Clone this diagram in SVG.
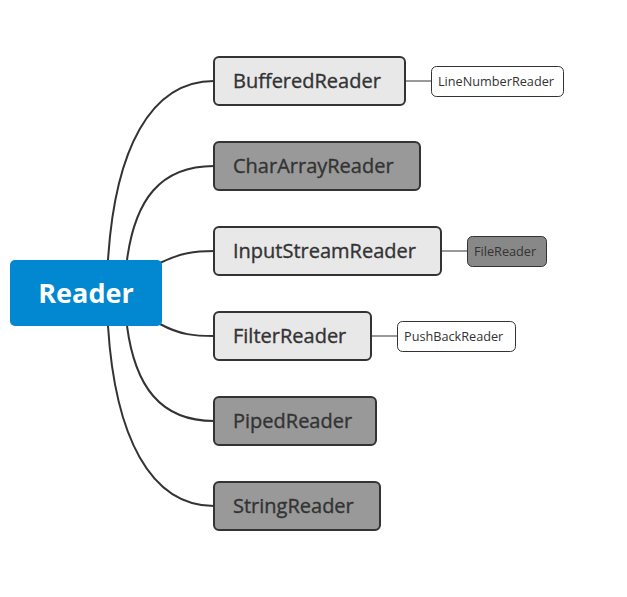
<svg xmlns="http://www.w3.org/2000/svg" width="627" height="597" viewBox="0 0 627 597">
<style>
.root rect{fill:#0288d1;}
.root text{font-family:"Open Sans","Noto Sans",sans-serif;font-weight:bold;font-size:27px;fill:#fff;text-anchor:middle;}
.n rect{stroke:#333;stroke-width:2;}
.n text{font-family:"Open Sans","Noto Sans",sans-serif;font-size:20px;fill:#333;stroke:#333;stroke-width:0.35;}
.light rect{fill:#e8e8e8;}
.dark rect{fill:#999;}
.s rect{stroke:#333;stroke-width:1;}
.s text{font-family:"Open Sans","Noto Sans",sans-serif;font-size:12.7px;fill:#333;}
.w rect{fill:#fff;}
.g rect{fill:#888;}
.c path{fill:none;stroke:#333;stroke-width:2;}
.c line{stroke:#999;stroke-width:2;}
</style>
<rect width="627" height="597" fill="#fff"/>
<g id="connectors" class="c">
<path d="M108,260 C115,150 150,81 214,81"/>
<path d="M127,260 C135,200 160,166 214,166"/>
<path d="M160,263 C180,253 195,251 214,251"/>
<path d="M160,324 C180,335 195,336 214,336"/>
<path d="M127,326 C135,386 160,421 214,421"/>
<path d="M108,326 C115,436 150,506 214,506"/>
<line x1="405" y1="81" x2="431" y2="81"/>
<line x1="441" y1="251" x2="467" y2="251"/>
<line x1="371" y1="336" x2="397" y2="336"/>
</g>
<g id="reader" class="root">
<rect x="10" y="260" width="152" height="66" rx="5"/>
<text x="86" y="303">Reader</text>
</g>
<g id="bufferedreader" class="n light">
<rect x="214" y="57" width="191" height="48" rx="5"/>
<text x="233" y="88">BufferedReader</text>
</g>
<g id="chararrayreader" class="n dark">
<rect x="214" y="142" width="206" height="48" rx="5"/>
<text x="233" y="173">CharArrayReader</text>
</g>
<g id="inputstreamreader" class="n light">
<rect x="214" y="227" width="227" height="48" rx="5"/>
<text x="233" y="258">InputStreamReader</text>
</g>
<g id="filterreader" class="n light">
<rect x="214" y="312" width="157" height="48" rx="5"/>
<text x="233" y="343">FilterReader</text>
</g>
<g id="pipedreader" class="n dark">
<rect x="214" y="397" width="162" height="48" rx="5"/>
<text x="233" y="428">PipedReader</text>
</g>
<g id="stringreader" class="n dark">
<rect x="214" y="482" width="166" height="48" rx="5"/>
<text x="233" y="513">StringReader</text>
</g>
<g id="linenumberreader" class="s w">
<rect x="431.5" y="66.5" width="132" height="30" rx="5"/>
<text x="438" y="86">LineNumberReader</text>
</g>
<g id="filereader" class="s g">
<rect x="467.5" y="236.5" width="79" height="30" rx="5"/>
<text x="474" y="256">FileReader</text>
</g>
<g id="pushbackreader" class="s w">
<rect x="397.5" y="321.5" width="118" height="30" rx="5"/>
<text x="404" y="341">PushBackReader</text>
</g>
</svg>
